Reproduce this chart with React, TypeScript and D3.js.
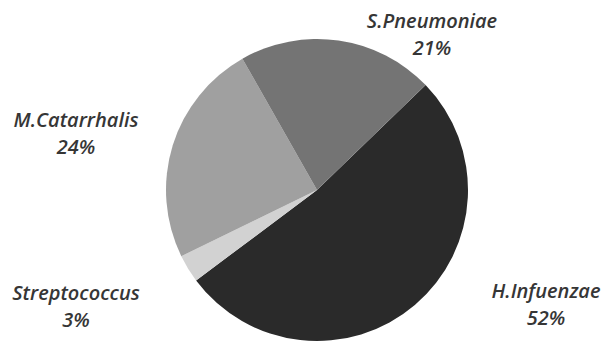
import React from "react";
import * as d3 from "d3";

const categories = ["H.Infuenzae", "Streptococcus", "M.Catarrhalis", "S.Pneumoniae"];
const values = [52, 3, 24, 21];
const colors = ["#2a2a2a", "#d2d2d2", "#a0a0a0", "#747474"];
const labelPos: [number, number][] = [
  [546, 298],
  [76, 300],
  [76, 127],
  [432, 28],
];

export default function App() {
  const W = 606, H = 343;
  const cx = 317, cy = 190, r = 151;
  const start = (46 * Math.PI) / 180;
  const pie = d3.pie<number>().sort(null).startAngle(start).endAngle(start + 2 * Math.PI);
  const arcs = pie(values);
  const arc = d3.arc<d3.PieArcDatum<number>>().innerRadius(0).outerRadius(r);
  return (
    <svg width={W} height={H} style={{ position: "absolute", left: 0, top: 0, background: "#fff" }}>
      <g transform={`translate(${cx},${cy})`}>
        {arcs.map((a, i) => (
          <path key={i} d={arc(a) || ""} fill={colors[i]} />
        ))}
      </g>
      {categories.map((c, i) => (
        <text key={c} x={labelPos[i][0]} y={labelPos[i][1]} textAnchor="middle"
          fontFamily="'Open Sans', sans-serif" fontStyle="italic" fontWeight={600} fontSize={20} fill="#363636">
          <tspan x={labelPos[i][0]}>{c}</tspan>
          <tspan x={labelPos[i][0]} dy={27}>{values[i]}%</tspan>
        </text>
      ))}
    </svg>
  );
}
